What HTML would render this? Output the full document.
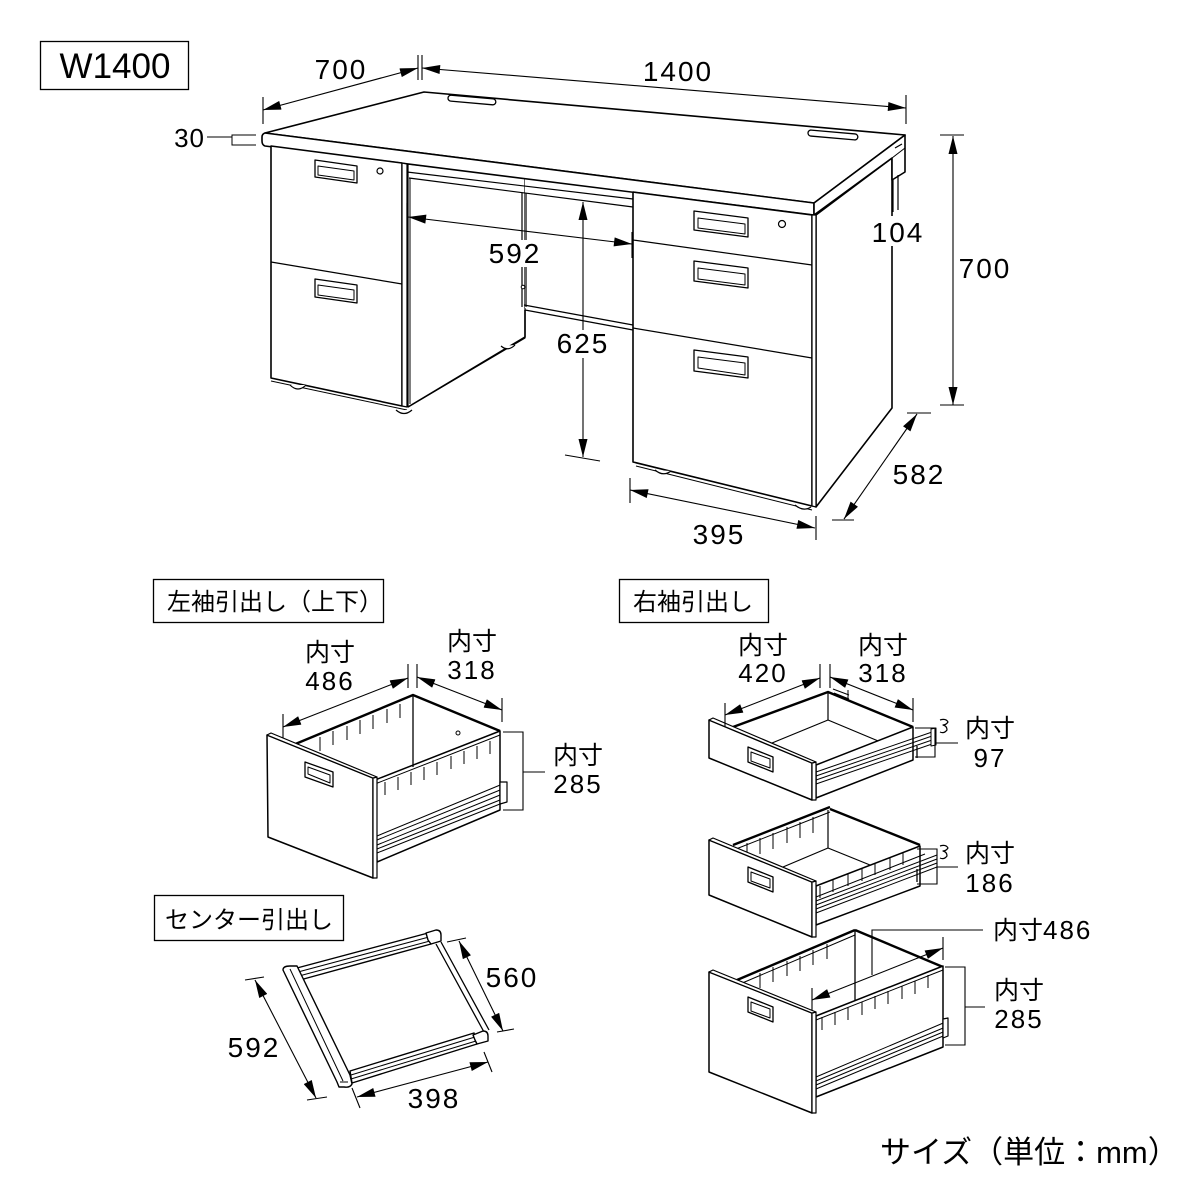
<!DOCTYPE html>
<html><head><meta charset="utf-8"><style>
html,body{margin:0;padding:0;background:#fff;}
svg{display:block;}
.n{font-family:"Liberation Sans",sans-serif;font-size:28px;letter-spacing:2px;fill:#000;}
.m{font-family:"Liberation Sans",sans-serif;font-size:26px;letter-spacing:2px;fill:#000;}
.j{font-family:"Liberation Sans","Noto Sans CJK JP",sans-serif;font-size:25px;fill:#000;}
.t{font-family:"Liberation Sans","Noto Sans CJK JP",sans-serif;font-size:24px;fill:#000;}
</style></head><body>
<svg width="1200" height="1200" viewBox="0 0 1200 1200" xmlns="http://www.w3.org/2000/svg">
<defs>
<marker id="ar" viewBox="0 0 20 10" refX="20" refY="5" markerWidth="19" markerHeight="9" orient="auto-start-reverse" markerUnits="userSpaceOnUse"><path d="M0,0L20,5L0,10Z" fill="#000"/></marker>
</defs>
<rect width="1200" height="1200" fill="#fff"/>

<!-- W1400 box -->
<rect x="40.5" y="41.5" width="148" height="48" fill="none" stroke="#000" stroke-width="1.3"/>
<text x="115" y="78" class="n" style="font-size:35px;letter-spacing:0" text-anchor="middle">W1400</text>

<!-- 30 label -->
<text x="205" y="147" class="m" text-anchor="end" style="letter-spacing:1px">30</text>
<path d="M207,137H232M256,135H232V145H256" fill="none" stroke="#000" stroke-width="1"/>

<!-- ================= DESK ================= -->
<g fill="#fff" stroke="#000" stroke-width="1.6" stroke-linejoin="round">
<path d="M816,215L892,158L892,408L816,507Z"/>
<path d="M408,164L525,178L525,338L408,407Z" stroke-width="1.2"/>
<path d="M408,164L633,193L633,330L525,308L525,178Z" stroke="none"/>
<path d="M265,133L424,92L905,135L814,203Z"/>
<path d="M265,133L814,203L814,215L265,146Q262,145 262,141L262,137Q262,134 265,133Z"/>
<path d="M814,203L905,135L905,172L892,180L892,158L814,215Z"/>
<path d="M892,158L905,148" fill="none" stroke-width="1"/>
<path d="M895,148L902,144" fill="none" stroke-width="1.2"/>
<path d="M271,146L402,163L402,406L271,378Z"/>
<path d="M402,163L407,164L407,407L402,406Z" stroke-width="1.2"/>
<line x1="271" y1="262" x2="402" y2="284" stroke-width="1.2"/>
<line x1="410" y1="178" x2="410" y2="404" stroke-width="1"/>
<path d="M407,172L633,199M409,178L633,207" fill="none" stroke-width="1.2"/>
<path d="M522,193V307M526,193V307" fill="none" stroke-width="1.2"/>
<circle cx="523" cy="287" r="1.8" stroke-width="1"/>
<path d="M524,305L633,325M525,310L633,330" fill="none" stroke-width="1.3"/>
<path d="M525,310V337L408,407" fill="none" stroke-width="1.6"/>
<path d="M633,192L812,215L812,506L633,462Z"/>
<path d="M812,215L816,215L816,507L812,506Z" stroke-width="1.2"/>
<path d="M633,240L812,265M633,328L812,358" fill="none" stroke-width="1.2"/>
<path d="M636,466L812,510" fill="none" stroke-width="1"/>
<path d="M271,381L407,410" fill="none" stroke-width="1"/>
<path d="M893,180V212M898,175V210" fill="none" stroke-width="1.2"/>
<path d="M290,385Q298,393 306,385" stroke-width="1.2"/>
<path d="M396,410Q404,417 412,410" stroke-width="1.2"/>
<path d="M501,346Q508,352 515,345" stroke-width="1.2"/>
<path d="M655,470Q663,477 671,471" stroke-width="1.2"/>
<path d="M795,505Q803,512 811,507" stroke-width="1.2"/>
<rect x="448" y="97" width="48" height="6" rx="3" transform="rotate(5 472 99)" stroke-width="1.3"/>
<rect x="808" y="132" width="50" height="6" rx="3" transform="rotate(5 833 134)" stroke-width="1.3"/>
<g stroke-width="1.3">
<path d="M315,160L357,166L357,183L315,177Z"/><path d="M318,166L354,171L354,180L318,175Z" stroke-width="1"/>
<path d="M315,279L357,285L357,303L315,297Z"/><path d="M318,285L354,290L354,300L318,295Z" stroke-width="1"/>
<path d="M694,211L748,218L748,237L694,230Z"/><path d="M698,218L745,224L745,234L698,228Z" stroke-width="1"/>
<path d="M694,261L748,268L748,288L694,281Z"/><path d="M698,268L745,274L745,285L698,279Z" stroke-width="1"/>
<path d="M694,350L748,357L748,378L694,371Z"/><path d="M698,357L745,363L745,375L698,368Z" stroke-width="1"/>
</g>
<circle cx="380" cy="171" r="3" stroke-width="1.2"/>
<circle cx="782" cy="224" r="3.5" stroke-width="1.2"/>
</g>

<!-- desk dimensions -->
<g stroke="#000" stroke-width="1.1" fill="none">
<line x1="263" y1="110" x2="418" y2="68" marker-start="url(#ar)" marker-end="url(#ar)"/>
<line x1="422" y1="68" x2="906" y2="108" marker-start="url(#ar)" marker-end="url(#ar)"/>
<path d="M263,97V124M418,55V80M422,55V80M906,95V124"/>
<line x1="408" y1="217" x2="632" y2="244" marker-start="url(#ar)" marker-end="url(#ar)"/>
<path d="M407,203V230M632,232V258"/>
<line x1="583" y1="202" x2="583" y2="457" marker-start="url(#ar)" marker-end="url(#ar)"/>
<path d="M565,455L600,461"/>
<line x1="953" y1="136" x2="953" y2="405" marker-start="url(#ar)" marker-end="url(#ar)"/>
<path d="M940,135H964M940,405H964"/>
<line x1="917" y1="414" x2="844" y2="519" marker-start="url(#ar)" marker-end="url(#ar)"/>
<path d="M907,413H931M832,520H854"/>
<line x1="630" y1="490" x2="815" y2="528" marker-start="url(#ar)" marker-end="url(#ar)"/>
<path d="M630,478V503M816,516V540"/>
</g>
<rect x="488" y="240" width="55" height="27" fill="#fff"/>
<rect x="555" y="330" width="57" height="28" fill="#fff"/>
<rect x="868" y="216" width="60" height="30" fill="#fff"/>
<text x="341" y="79" class="n" text-anchor="middle">700</text>
<text x="678" y="81" class="n" text-anchor="middle">1400</text>
<text x="515" y="263" class="n" text-anchor="middle">592</text>
<text x="583" y="353" class="n" text-anchor="middle">625</text>
<text x="898" y="242" class="n" text-anchor="middle">104</text>
<text x="985" y="278" class="n" text-anchor="middle">700</text>
<text x="919" y="484" class="n" text-anchor="middle">582</text>
<text x="719" y="544" class="n" text-anchor="middle">395</text>

<!-- ================= TITLES ================= -->
<rect x="153.5" y="579.5" width="230" height="43" fill="none" stroke="#000" stroke-width="1.3"/>
<text x="167" y="610" class="t">左袖引出し（上下）</text>
<rect x="619.5" y="579.5" width="149" height="43" fill="none" stroke="#000" stroke-width="1.3"/>
<text x="633" y="610" class="t">右袖引出し</text>
<rect x="154.5" y="895.5" width="189" height="45" fill="none" stroke="#000" stroke-width="1.3"/>
<text x="165" y="928" class="t">センター引出し</text>

<!-- ================= LEFT DRAWER ================= -->
<g fill="#fff" stroke="#000" stroke-width="1.5" stroke-linejoin="round">
<path d="M375,780L500,731L500,810L377,862Z"/>
<path d="M293,745L413,695L500,731" fill="none" stroke-width="2.4"/>
<line x1="413" y1="695" x2="413" y2="767" stroke-width="1.3"/>
<circle cx="458" cy="733" r="2" stroke-width="1"/>
<path d="M375,784L500,735" fill="none" stroke-width="1"/>
<path d="M320,737v14M333,731v14M347,726v14M360,720v14M373,715v14M387,709v14M400,704v14" fill="none" stroke-width="1"/>
<path d="M385,782v13M398,777v13M411,772v13M424,767v13M437,762v13M451,756v13M464,751v13M477,746v13M490,741v13" fill="none" stroke-width="1"/>
<path d="M377,836L505,783M377,840L505,788M377,845L505,793M377,849L505,798M377,853L505,802" fill="none" stroke-width="1"/>
<path d="M500,782L507,782L507,802L500,804Z" stroke-width="1.2"/>
<path d="M267,735L373,778L373,878L268,837Z"/>
<path d="M373,778L377,777L377,878L373,878Z" stroke-width="1.2"/>
<path d="M267,735L271,733L377,777L373,778Z" stroke-width="1.2"/>
<path d="M305,762L333,772L333,787L305,777Z" stroke-width="1.3"/>
<path d="M308,767L330,775L330,783L308,774Z" stroke-width="1"/>
</g>
<g stroke="#000" stroke-width="1.1" fill="none">
<line x1="283" y1="727" x2="408" y2="678" marker-start="url(#ar)" marker-end="url(#ar)"/>
<line x1="417" y1="677" x2="502" y2="710" marker-start="url(#ar)" marker-end="url(#ar)"/>
<path d="M283,714V738M408,664V688M417,664V688M502,698V722"/>
<path d="M503,732H523V810H503M523,772H545"/>
</g>
<text x="330" y="661" class="j" text-anchor="middle">内寸</text>
<text x="330" y="690" class="m" text-anchor="middle">486</text>
<text x="472" y="650" class="j" text-anchor="middle">内寸</text>
<text x="472" y="679" class="m" text-anchor="middle">318</text>
<text x="578" y="764" class="j" text-anchor="middle">内寸</text>
<text x="578" y="793" class="m" text-anchor="middle">285</text>

<!-- ================= RIGHT TOP DRAWER ================= -->
<g fill="#fff" stroke="#000" stroke-width="1.5" stroke-linejoin="round">
<path d="M733,727L828,692L913,727" fill="none" stroke-width="2.4"/>
<line x1="828" y1="692" x2="828" y2="720" stroke-width="1.2"/>
<path d="M772,743L828,720L883,743" fill="none" stroke-width="1.2"/>
<path d="M833,689L849,695M834,693L849,699M848,690V700" fill="none" stroke-width="1"/>
<path d="M816,765L913,727L913,760L816,798Z"/>
<path d="M816,772L935,731M816,776L935,735M816,780L935,739M816,784L935,743" fill="none" stroke-width="1"/>
<path d="M931,729L936,728L936,745L931,746Z" stroke-width="1"/>
<path d="M940,720q6,-2 8,2q-2,3 -5,3q4,1 4,5q-3,4 -7,2" fill="none" stroke-width="1.2"/>
<path d="M917,746V758" fill="none" stroke-width="1.3"/>
<path d="M709,720L812,763L812,800L709,758Z"/>
<path d="M812,763L816,762L816,800L812,800Z" stroke-width="1.2"/>
<path d="M709,720L713,718L816,762L812,763Z" stroke-width="1.2"/>
<path d="M748,747L773,757L773,772L748,762Z" stroke-width="1.3"/>
<path d="M751,752L770,759L770,768L751,761Z" stroke-width="1"/>
</g>
<g stroke="#000" stroke-width="1.1" fill="none">
<line x1="725" y1="715" x2="820" y2="678" marker-start="url(#ar)" marker-end="url(#ar)"/>
<line x1="830" y1="677" x2="913" y2="710" marker-start="url(#ar)" marker-end="url(#ar)"/>
<path d="M725,703V727M820,664V688M830,664V688M913,698V722"/>
<path d="M915,728H935V757H915M935,743H958"/>
</g>
<text x="763" y="654" class="j" text-anchor="middle">内寸</text>
<text x="763" y="682" class="m" text-anchor="middle">420</text>
<text x="883" y="654" class="j" text-anchor="middle">内寸</text>
<text x="883" y="682" class="m" text-anchor="middle">318</text>
<text x="990" y="737" class="j" text-anchor="middle">内寸</text>
<text x="990" y="767" class="m" text-anchor="middle">97</text>

<!-- ================= RIGHT MID DRAWER ================= -->
<g fill="#fff" stroke="#000" stroke-width="1.5" stroke-linejoin="round">
<path d="M733,845L830,807" fill="none" stroke-width="2.4"/>
<path d="M736,849L830,812" fill="none" stroke-width="1"/>
<path d="M830,809L920,845" fill="none" stroke-width="2.4"/>
<line x1="828" y1="810" x2="828" y2="848" stroke-width="1.2"/>
<path d="M783,867L828,848L870,865" fill="none" stroke-width="1.2"/>
<path d="M747,843v16M760,838v16M773,833v16M787,827v16M800,822v16M813,817v16" fill="none" stroke-width="1"/>
<path d="M816,886L920,846L920,886L816,925Z"/>
<path d="M816,897L925,854" fill="none" stroke-width="1"/>
<path d="M820,886v12M833,880v12M848,874v12M862,869v12M875,863v12M890,858v12M903,853v12" fill="none" stroke-width="1"/>
<path d="M816,901L937,855M816,905L937,859M816,909L937,863M816,913L937,867" fill="none" stroke-width="1"/>
<path d="M940,846q6,-2 8,2q-2,3 -5,3q4,1 4,5q-3,4 -7,2" fill="none" stroke-width="1.2"/>
<path d="M917,869V882" fill="none" stroke-width="1.3"/>
<path d="M709,840L812,882L812,937L709,895Z"/>
<path d="M812,882L816,881L816,937L812,937Z" stroke-width="1.2"/>
<path d="M709,840L713,838L816,881L812,882Z" stroke-width="1.2"/>
<path d="M748,867L773,877L773,892L748,882Z" stroke-width="1.3"/>
<path d="M751,872L770,879L770,888L751,881Z" stroke-width="1"/>
</g>
<g stroke="#000" stroke-width="1.1" fill="none">
<path d="M917,849H937V884H917M937,867H958"/>
</g>
<text x="990" y="862" class="j" text-anchor="middle">内寸</text>
<text x="990" y="892" class="m" text-anchor="middle">186</text>

<!-- ================= RIGHT BOTTOM DRAWER ================= -->
<g fill="#fff" stroke="#000" stroke-width="1.5" stroke-linejoin="round">
<path d="M737,980L855,930" fill="none" stroke-width="2.4"/>
<path d="M740,984L855,935" fill="none" stroke-width="1"/>
<path d="M855,930L943,967" fill="none" stroke-width="2.4"/>
<line x1="855" y1="930" x2="855" y2="1003" stroke-width="1.3"/>
<path d="M760,973v15M773,967v15M787,961v15M800,956v15M813,950v15M827,944v15" fill="none" stroke-width="1"/>
<path d="M816,1016L943,966L943,1047L816,1097Z"/>
<path d="M816,1020L943,970" fill="none" stroke-width="1"/>
<path d="M822,1017v13M835,1012v13M848,1007v13M862,1002v13M875,996v13M888,991v13M902,986v13M915,981v13M928,975v13" fill="none" stroke-width="1"/>
<path d="M816,1077L948,1021M816,1081L948,1026M816,1085L948,1030M816,1089L948,1034" fill="none" stroke-width="1"/>
<path d="M943,1019L948,1018L948,1036L943,1038Z" stroke-width="1.2"/>
<path d="M709,972L812,1013L812,1113L709,1072Z"/>
<path d="M812,1013L816,1012L816,1113L812,1113Z" stroke-width="1.2"/>
<path d="M709,972L713,970L816,1012L812,1013Z" stroke-width="1.2"/>
<path d="M748,997L773,1007L773,1022L748,1012Z" stroke-width="1.3"/>
<path d="M751,1002L770,1009L770,1018L751,1011Z" stroke-width="1"/>
</g>
<g stroke="#000" stroke-width="1.1" fill="none">
<line x1="812" y1="1000" x2="943" y2="948" marker-start="url(#ar)" marker-end="url(#ar)"/>
<path d="M812,988V1010M943,937V960"/>
<path d="M872,975V930H983"/>
<path d="M945,967H965V1045H945M965,1007H985"/>
</g>
<text x="993" y="939" class="j">内寸<tspan class="m" style="font-size:26px">486</tspan></text>
<text x="1019" y="999" class="j" text-anchor="middle">内寸</text>
<text x="1019" y="1028" class="m" text-anchor="middle">285</text>

<!-- ================= CENTER TRAY ================= -->
<g fill="#fff" stroke="#000" stroke-width="1.4" stroke-linejoin="round">
<path d="M297,968L428,933L431,944L300,980Z"/>
<path d="M298,972L429,937M299,976L430,941" fill="none" stroke-width="1"/>
<path d="M436,944L484,1032M441,942L489,1030" fill="none" stroke-width="1.3"/>
<path d="M350,1071L474,1033L477,1044L352,1083Z"/>
<path d="M351,1075L475,1037M351,1079L476,1041" fill="none" stroke-width="1"/>
<path d="M426,933L436,930Q441,930 441,935L441,941L431,944L428,940Z"/>
<path d="M473,1035L483,1031Q488,1031 488,1036L488,1041L477,1044L475,1040Z"/>
<path d="M283,970Q283,966 290,966L297,966L350,1075L352,1084Q350,1088 344,1087L339,1087L337,1082Z"/>
<path d="M290,969L343,1081" fill="none" stroke-width="1"/>
<path d="M340,1082h8" fill="none" stroke-width="1"/>
</g>
<g stroke="#000" stroke-width="1.1" fill="none">
<line x1="459" y1="941" x2="503" y2="1031" marker-start="url(#ar)" marker-end="url(#ar)"/>
<path d="M447,942L466,938M497,1032L514,1029"/>
<line x1="255" y1="980" x2="316" y2="1098" marker-start="url(#ar)" marker-end="url(#ar)"/>
<path d="M245,980L264,977M307,1100L327,1097"/>
<line x1="357" y1="1097" x2="488" y2="1062" marker-start="url(#ar)" marker-end="url(#ar)"/>
<path d="M352,1088L360,1108M484,1052L492,1072"/>
</g>
<text x="512" y="987" class="n" text-anchor="middle">560</text>
<text x="254" y="1057" class="n" text-anchor="middle">592</text>
<text x="434" y="1108" class="n" text-anchor="middle">398</text>

<text x="880" y="1163" style="font-family:'Liberation Sans','Noto Sans CJK JP',sans-serif;font-size:31px;fill:#000">サイズ（単位：mm）</text>
</svg>
</body></html>
